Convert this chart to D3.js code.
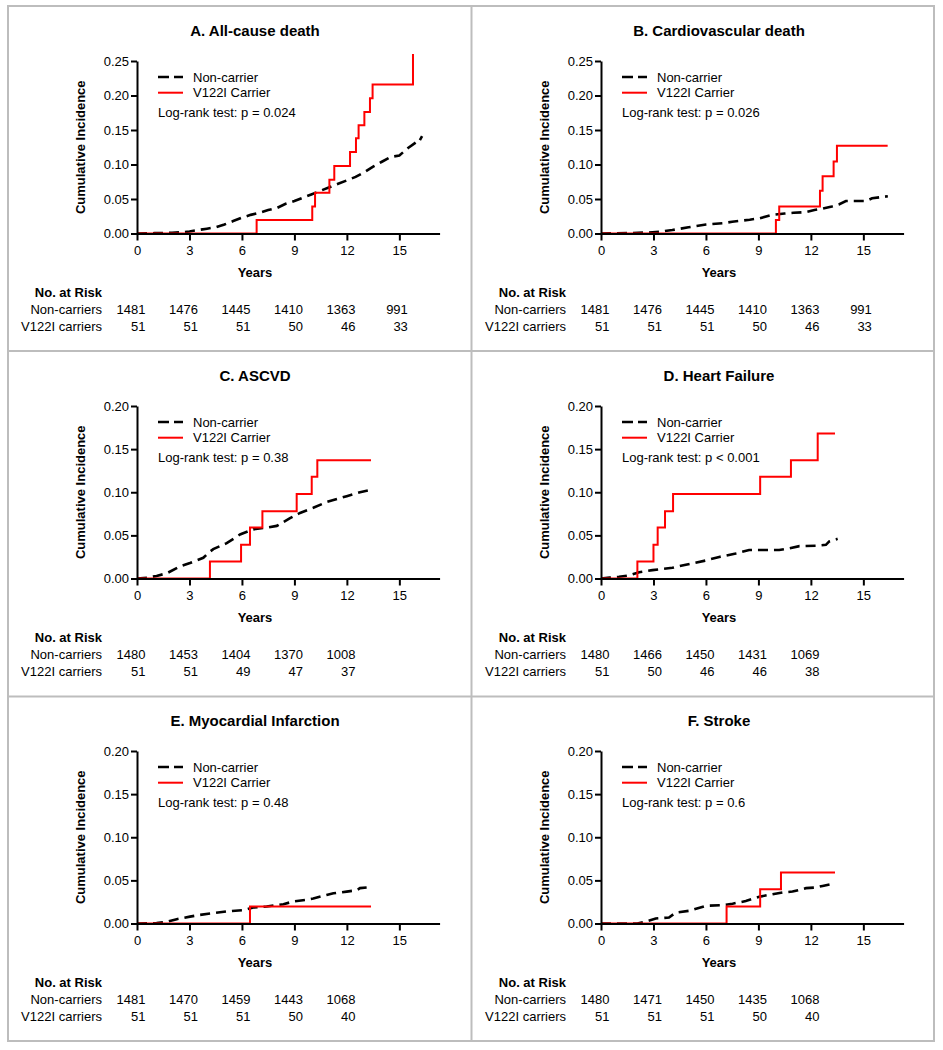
<!DOCTYPE html>
<html>
<head>
<meta charset="utf-8">
<script src="https://cdn.jsdelivr.net/npm/d3@7"></script>
<style>
  html, body { margin: 0; padding: 0; background: #fff; }
  svg { display: block; }
  text { font-family: "Liberation Sans", Arial, Helvetica, sans-serif; fill: #000; }
</style>
</head>
<body>
<svg id="chart" width="943" height="1050"></svg>
<script>
// ---------------- DATA ----------------
const panelTitles = ["A. All-cause death", "B. Cardiovascular death", "C. ASCVD",
                     "D. Heart Failure", "E. Myocardial Infarction", "F. Stroke"];
const pValueTexts = ["Log-rank test: p = 0.024", "Log-rank test: p = 0.026", "Log-rank test: p = 0.38",
                     "Log-rank test: p < 0.001", "Log-rank test: p = 0.48", "Log-rank test: p = 0.6"];
const seriesNames = ["Non-carrier", "V122I Carrier"];
const riskRowLabels = ["Non-carriers", "V122I carriers"];
const yMaxes = [0.25, 0.25, 0.20, 0.20, 0.20, 0.20];
const xTicksLong = [0, 3, 6, 9, 12, 15];
const yTicksLong = [0, 0.05, 0.10, 0.15, 0.20, 0.25];
const yTicksShort = [0, 0.05, 0.10, 0.15, 0.20];
const riskTimesLong = [0, 3, 6, 9, 12, 15];
const riskTimesShort = [0, 3, 6, 9, 12];

// Non-carrier cumulative incidence [years, value]
const nonCarrierA = [[0,0],[1,0.0005],[2,0.001],[2.7,0.002],[3,0.003],[3.5,0.005],[4,0.007],[4.5,0.009],[5,0.013],[5.5,0.018],[6,0.023],[6.5,0.027],[7,0.030],[7.5,0.034],[8,0.037],[8.5,0.043],[9,0.047],[9.5,0.052],[10,0.057],[10.5,0.062],[11,0.067],[11.5,0.072],[12,0.077],[12.5,0.082],[13,0.089],[13.5,0.097],[14,0.104],[14.5,0.111],[15,0.113],[15.5,0.124],[16,0.133],[16.1,0.132],[16.3,0.141]];
const nonCarrierB = [[0,0],[1.5,0.0005],[2.75,0.0015],[3.5,0.003],[4.08,0.005],[5,0.009],[6,0.013],[7,0.015],[7.5,0.017],[8.5,0.020],[9.05,0.022],[9.8,0.027],[10.5,0.029],[11,0.030],[11.7,0.031],[12.2,0.034],[12.67,0.036],[13.2,0.039],[13.6,0.042],[14,0.047],[15.15,0.047],[15.5,0.051],[16.4,0.054]];
const nonCarrierC = [[0,0],[0.6,0.001],[1.12,0.003],[1.7,0.006],[2.46,0.014],[3.03,0.018],[3.79,0.024],[4.1,0.030],[4.36,0.034],[5.13,0.041],[5.89,0.051],[6.65,0.057],[7.41,0.059],[7.99,0.061],[8.75,0.070],[9.32,0.076],[10.08,0.082],[10.84,0.0886],[11.23,0.091],[11.99,0.0955],[12.75,0.100],[13.32,0.1025]];
const nonCarrierD = [[0,0],[0.5,0.001],[1.03,0.002],[1.6,0.0035],[2.18,0.0073],[2.94,0.0097],[4.08,0.0124],[4.85,0.016],[6.0,0.0209],[6.76,0.025],[7.71,0.029],[8.47,0.033],[10.19,0.033],[10.76,0.035],[11.34,0.0375],[12.29,0.038],[12.86,0.039],[13.05,0.043],[13.53,0.046]];
const nonCarrierE = [[0,0],[1.12,0.0004],[1.7,0.002],[2.27,0.005],[3.03,0.008],[3.6,0.010],[4.36,0.012],[5.13,0.014],[6.08,0.0155],[6.65,0.0185],[7.41,0.0197],[8.37,0.0224],[8.94,0.0255],[9.7,0.0274],[10.08,0.029],[10.84,0.033],[11.23,0.035],[11.99,0.037],[12.56,0.0386],[12.75,0.041],[13.13,0.0417]];
const nonCarrierF = [[0,0],[2.08,0],[2.56,0.0023],[3.13,0.0058],[3.89,0.007],[4.27,0.0127],[5.04,0.0147],[5.99,0.0205],[6.95,0.0212],[7.52,0.023],[8.28,0.026],[9.05,0.031],[9.81,0.034],[10.38,0.036],[10.95,0.037],[11.72,0.041],[12.29,0.0417],[12.67,0.0436],[13.15,0.0456]];

// V122I carrier step curves [years, value]
const carrierA = [[0,0],[6.84,0.0196],[10.02,0.039],[10.18,0.059],[11.0,0.078],[11.28,0.098],[12.18,0.118],[12.52,0.138],[12.67,0.157],[13.0,0.176],[13.32,0.196],[13.47,0.216],[15.78,0.26]];
const carrierB = [[0,0],[10.0,0.0196],[10.19,0.039],[12.52,0.062],[12.67,0.083],[13.3,0.1045],[13.49,0.127],[16.39,0.127]];
const carrierC = [[0,0],[4.17,0.0196],[5.95,0.039],[6.46,0.059],[7.17,0.078],[9.13,0.098],[9.99,0.118],[10.31,0.137],[13.38,0.137]];
const carrierD = [[0,0],[2.08,0.0196],[3.0,0.039],[3.24,0.059],[3.66,0.078],[4.12,0.098],[9.1,0.118],[10.86,0.137],[12.39,0.168],[13.38,0.168]];
const carrierE = [[0,0],[6.46,0.0196],[13.38,0.0196]];
const carrierF = [[0,0],[7.18,0.0196],[9.1,0.0398],[10.29,0.059],[13.38,0.059]];

// Numbers at risk
const riskNonA = [1481, 1476, 1445, 1410, 1363, 991];
const riskCarA = [51, 51, 51, 50, 46, 33];
const riskNonB = [1481, 1476, 1445, 1410, 1363, 991];
const riskCarB = [51, 51, 51, 50, 46, 33];
const riskNonC = [1480, 1453, 1404, 1370, 1008];
const riskCarC = [51, 51, 49, 47, 37];
const riskNonD = [1480, 1466, 1450, 1431, 1069];
const riskCarD = [51, 50, 46, 46, 38];
const riskNonE = [1481, 1470, 1459, 1443, 1068];
const riskCarE = [51, 51, 51, 50, 40];
const riskNonF = [1480, 1471, 1450, 1435, 1068];
const riskCarF = [51, 51, 51, 50, 40];

const nonCarrierSeries = [nonCarrierA, nonCarrierB, nonCarrierC, nonCarrierD, nonCarrierE, nonCarrierF];
const carrierSeries = [carrierA, carrierB, carrierC, carrierD, carrierE, carrierF];
const riskNon = [riskNonA, riskNonB, riskNonC, riskNonD, riskNonE, riskNonF];
const riskCar = [riskCarA, riskCarB, riskCarC, riskCarD, riskCarE, riskCarF];

// ---------------- LAYOUT ----------------
const svg = d3.select("#chart");
const colLefts = [8, 472];
const rowTops = [6, 351, 696];
const FONT = "'Liberation Sans', Arial, Helvetica, sans-serif";
const RED = "#ff0000";

// frame
const frame = svg.append("g").attr("stroke", "#bdbdbd").attr("fill", "none");
frame.append("rect").attr("x", 8).attr("y", 6).attr("width", 926).attr("height", 1035).attr("stroke-width", 2);
frame.append("line").attr("x1", 471.5).attr("x2", 471.5).attr("y1", 6).attr("y2", 1041).attr("stroke-width", 2);
frame.append("line").attr("x1", 8).attr("x2", 934).attr("y1", 351).attr("y2", 351).attr("stroke-width", 2);
frame.append("line").attr("x1", 8).attr("x2", 934).attr("y1", 696.5).attr("y2", 696.5).attr("stroke-width", 2);

const ox = 129, yTop = 55, yBot = 227.5, pxPerYear = 17.49, xMax = 17.3;

panelTitles.forEach((title, i) => {
  const L = colLefts[i % 2], T = rowTops[Math.floor(i / 2)];
  const g = svg.append("g").attr("transform", `translate(${L},${T})`);
  const long = i < 2;
  const x = d3.scaleLinear().domain([0, xMax]).range([ox, ox + xMax * pxPerYear]);
  const y = d3.scaleLinear().domain([0, yMaxes[i]]).range([yBot, yTop]);

  // title
  g.append("text").attr("x", 247).attr("y", 25).attr("dy", "0.35em")
    .attr("text-anchor", "middle").attr("font-size", 15).attr("font-weight", "bold").text(title);

  // curves
  const lineLin = d3.line().x(d => x(d[0])).y(d => y(d[1]));
  const lineStep = d3.line().x(d => x(d[0])).y(d => y(d[1])).curve(d3.curveStepAfter);
  g.append("path").datum(nonCarrierSeries[i]).attr("d", lineLin)
    .attr("fill", "none").attr("stroke", "#000").attr("stroke-width", 2.6)
    .attr("stroke-dasharray", "10,6");
  g.append("path").datum(carrierSeries[i]).attr("d", lineStep)
    .attr("fill", "none").attr("stroke", RED).attr("stroke-width", 2);

  // axes
  const yAxis = d3.axisLeft(y).tickValues(long ? yTicksLong : yTicksShort)
    .tickFormat(d3.format(".2f")).tickSize(6).tickSizeOuter(0).tickPadding(2);
  const xAxis = d3.axisBottom(x).tickValues(long ? xTicksLong : xTicksLong)
    .tickFormat(d3.format("d")).tickSize(7).tickSizeOuter(0).tickPadding(5);
  const ya = g.append("g").attr("transform", `translate(${ox},0)`).call(yAxis);
  const xa = g.append("g").attr("transform", `translate(0,${yBot})`).call(xAxis);
  [ya, xa].forEach(a => {
    a.attr("font-size", 13).attr("font-family", FONT);
    a.selectAll("path.domain").attr("stroke", "#000").attr("stroke-width", 2);
    a.selectAll(".tick line").attr("stroke", "#000").attr("stroke-width", 2);
    a.selectAll(".tick text").attr("fill", "#000");
  });

  // axis titles
  g.append("text").attr("transform", `translate(72,${(yTop + yBot) / 2}) rotate(-90)`)
    .attr("dy", "0.35em").attr("text-anchor", "middle").attr("font-size", 13)
    .attr("font-weight", "bold").text("Cumulative Incidence");
  g.append("text").attr("x", 247).attr("y", 266).attr("dy", "0.35em")
    .attr("text-anchor", "middle").attr("font-size", 13).attr("font-weight", "bold").text("Years");

  // legend
  const lx = ox + 21;
  g.append("line").attr("x1", lx).attr("x2", lx + 25).attr("y1", 71).attr("y2", 71)
    .attr("stroke", "#000").attr("stroke-width", 2.6).attr("stroke-dasharray", "11,5");
  g.append("line").attr("x1", lx).attr("x2", lx + 25).attr("y1", 86.7).attr("y2", 86.7)
    .attr("stroke", RED).attr("stroke-width", 2);
  g.append("text").attr("x", ox + 56).attr("y", 71).attr("dy", "0.35em").attr("font-size", 13).text(seriesNames[0]);
  g.append("text").attr("x", ox + 56).attr("y", 86.7).attr("dy", "0.35em").attr("font-size", 13).text(seriesNames[1]);
  g.append("text").attr("x", lx).attr("y", 106).attr("dy", "0.35em").attr("font-size", 13).text(pValueTexts[i]);

  // risk table
  g.append("text").attr("x", 94).attr("y", 286).attr("dy", "0.35em").attr("text-anchor", "end")
    .attr("font-size", 13).attr("font-weight", "bold").text("No. at Risk");
  g.append("text").attr("x", 94).attr("y", 303).attr("dy", "0.35em").attr("text-anchor", "end")
    .attr("font-size", 13).text(riskRowLabels[0]);
  g.append("text").attr("x", 94).attr("y", 320).attr("dy", "0.35em").attr("text-anchor", "end")
    .attr("font-size", 13).text(riskRowLabels[1]);
  const times = long ? riskTimesLong : riskTimesShort;
  g.selectAll("text.rn").data(riskNon[i]).join("text").attr("class", "rn")
    .attr("x", (d, k) => x(times[k]) + 8.5).attr("y", 303).attr("dy", "0.35em")
    .attr("text-anchor", "end").attr("font-size", 13).text(d => d);
  g.selectAll("text.rc").data(riskCar[i]).join("text").attr("class", "rc")
    .attr("x", (d, k) => x(times[k]) + 8.5).attr("y", 320).attr("dy", "0.35em")
    .attr("text-anchor", "end").attr("font-size", 13).text(d => d);
});
</script>
</body>
</html>
